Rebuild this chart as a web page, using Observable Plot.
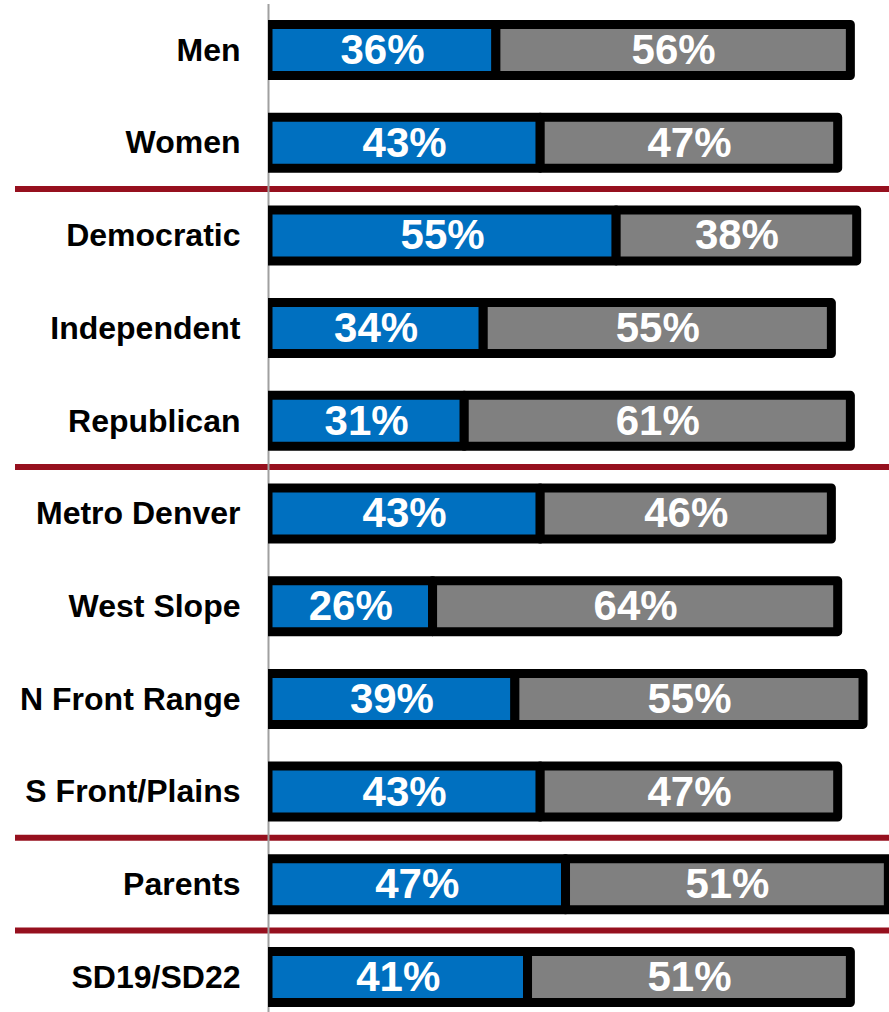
<!DOCTYPE html>
<html>
<head>
<meta charset="utf-8">
<script src="https://cdn.jsdelivr.net/npm/d3@7"></script>
<script src="https://cdn.jsdelivr.net/npm/@observablehq/plot@0.6"></script>
<style>
  html, body { margin: 0; padding: 0; background: #fff; }
  svg { display: block; }
</style>
</head>
<body>
<div id="chart"></div>
<script>
const categories = ["Men", "Women", "Democratic", "Independent", "Republican", "Metro Denver", "West Slope", "N Front Range", "S Front/Plains", "Parents", "SD19/SD22"];
const blueValues = [36, 43, 55, 34, 31, 43, 26, 39, 43, 47, 41];
const grayValues = [56, 47, 38, 55, 61, 46, 64, 55, 47, 51, 51];
const groupStarts = ["Democratic", "Metro Denver", "Parents", "SD19/SD22"];

const rows = categories.map((c, i) => ({category: c, blue: blueValues[i], gray: grayValues[i]}));
const font = "'Liberation Sans', Arial, sans-serif";

const chart = Plot.plot({
  width: 889,
  height: 1012,
  marginLeft: 15,
  marginRight: 0,
  marginTop: 4,
  marginBottom: 0,
  style: {fontFamily: font, background: "white"},
  x: {domain: [0, 100], range: [268, 901], axis: null},
  y: {domain: categories, range: [3.65, 1023.35], paddingInner: 0.45, paddingOuter: 0.225, round: false, axis: null},
  marks: [
    Plot.ruleY(groupStarts, {y: d => d, dy: -47, stroke: "#96101E", strokeWidth: 6}),
    Plot.ruleX([0], {stroke: "#a0a0a0", strokeWidth: 2}),
    Plot.barX(rows, {y: "category", x1: d => 0, x2: "blue", fill: "#0070C0", stroke: "black", strokeWidth: 9, strokeLinejoin: "round"}),
    Plot.barX(rows, {y: "category", x1: "blue", x2: d => d.blue + d.gray, fill: "#808080", stroke: "black", strokeWidth: 9, strokeLinejoin: "round"}),
    Plot.text(rows, {y: "category", x: d => d.blue / 2, text: d => d.blue + "%", fill: "white", fontSize: 42, fontWeight: "bold", fontFamily: font}),
    Plot.text(rows, {y: "category", x: d => d.blue + d.gray / 2, text: d => d.gray + "%", fill: "white", fontSize: 42, fontWeight: "bold", fontFamily: font}),
    Plot.text(rows, {y: "category", x: d => 0, dx: -28, text: "category", textAnchor: "end", fill: "black", fontSize: 32, fontWeight: "bold", fontFamily: font})
  ]
});

// clip bars at the baseline so their left border sits inside the axis
const svg = d3.select(chart);
const x0 = chart.scale("x").apply(0);
const cid = "barclip";
svg.insert("defs", ":first-child").append("clipPath").attr("id", cid)
  .append("rect").attr("x", x0).attr("y", 0).attr("width", 889 - x0).attr("height", 1012);
svg.selectAll('g[aria-label="bar"]').attr("clip-path", `url(#${cid})`);

document.getElementById("chart").appendChild(chart);
</script>
</body>
</html>
